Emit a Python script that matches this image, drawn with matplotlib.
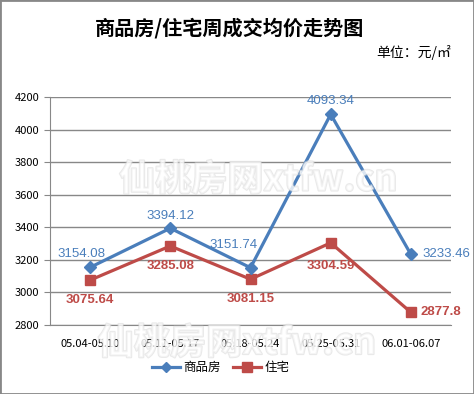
import matplotlib.pyplot as plt
import matplotlib.patheffects as pe

plt.rcParams['font.family'] = ['Noto Sans CJK SC', 'DejaVu Sans']

weeks = ["05.04-05.10", "05.11-05.17", "05.18-05.24", "05.25-05.31", "06.01-06.07"]
spf = [3154.08, 3394.12, 3151.74, 4093.34, 3233.46]
zz = [3075.64, 3285.08, 3081.15, 3304.59, 2877.8]

blue = '#4A7EBB'
red = '#BE4B48'

fig = plt.figure(figsize=(4.74, 3.94), dpi=100)
fig.patches.append(plt.Rectangle((0, 0), 1, 1, transform=fig.transFigure,
                                 fill=False, edgecolor='#888888', linewidth=2))
ax = fig.add_axes([0.1055, 0.175, 0.846, 0.579])

x = list(range(len(weeks)))
ax.plot(x, spf, color=blue, linewidth=2.3, marker='D', markersize=6, label='商品房', zorder=4)
ax.plot(x, zz, color=red, linewidth=2.3, marker='s', markersize=7.5, label='住宅', zorder=3)

# data labels (offsets in points)
offs_b = [(-6, 9.5, 'center'), (0, 9, 'center'), (-12, 16.5, 'center'), (0, 9.5, 'center'), (8, 0, 'left')]
offs_r = [(0, -14.5, 'center'), (0, -14.5, 'center'), (0, -14.5, 'center'), (0, -16.5, 'center'), (7, 0, 'left')]
for i in x:
    dx, dy, ha = offs_b[i]
    ax.annotate(f"{spf[i]:g}", (i, spf[i]), xytext=(dx, dy), textcoords='offset points',
                ha=ha, va='center', color=blue, fontsize=9.5, family='Liberation Sans', zorder=6)
    dx, dy, ha = offs_r[i]
    ax.annotate(f"{zz[i]:g}", (i, zz[i]), xytext=(dx, dy), textcoords='offset points',
                ha=ha, va='center', color=red, fontsize=9.5, fontweight='bold',
                family='Liberation Sans', zorder=6)

ax.set_xlim(-0.5, 4.5)
ax.set_ylim(2800, 4200)
ax.set_yticks(range(2800, 4201, 200))
ax.set_xticks(x)
ax.set_xticklabels(weeks, fontsize=8)
ax.tick_params(axis='y', labelsize=8, length=4, color='#888888')
ax.tick_params(axis='x', length=0, pad=10)
ax.grid(axis='y', color='#888888', linewidth=1)
ax.set_axisbelow(True)
for s in ['top', 'right']:
    ax.spines[s].set_visible(False)
ax.spines['left'].set_color('#888888')
ax.spines['bottom'].set_color('#888888')

# watermark
for wx, wy in [(0.545, 0.543), (0.50, 0.128)]:
    fig.text(wx, wy, '仙桃房网xtfw.cn', fontsize=26, color='white', ha='center', va='center',
             fontweight='bold', alpha=0.55, zorder=10,
             path_effects=[pe.withStroke(linewidth=1.5, foreground='#d8d8d8')])

fig.text(0.485, 0.928, '商品房/住宅周成交均价走势图', fontsize=14.5, fontweight='bold',
         ha='center', va='center')
fig.text(0.952, 0.868, '单位：元/㎡', fontsize=10, ha='right', va='center')

fig.legend(loc='center', bbox_to_anchor=(0.466, 0.067), ncol=2, frameon=False, fontsize=9,
           handlelength=2.2, columnspacing=1.0, handletextpad=0.3, markerscale=0.9)

fig.savefig('out.png', dpi=100)
